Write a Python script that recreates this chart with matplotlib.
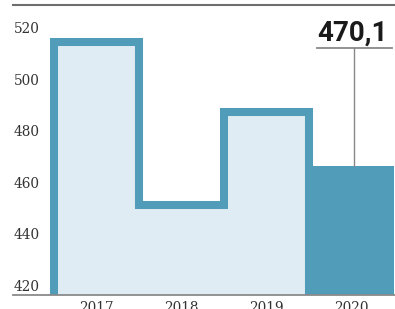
import numpy as np
import matplotlib
matplotlib.use("Agg")
import matplotlib.pyplot as plt
from matplotlib.lines import Line2D
import matplotlib.transforms as mtransforms

# data
years = ["2017", "2018", "2019", "2020"]
values = [518.0, 455.0, 491.0, 470.1]
y_ticks = [420, 440, 460, 480, 500, 520]
highlight_label = "470,1"

dark = "#509cb9"
light = "#dfecf3"
grey = "#7a7a7a"

W, H = 395, 309
fig = plt.figure(figsize=(W / 100, H / 100), dpi=100)
ax = fig.add_axes([0, 0, 1, 1])
ax.set_axis_off()

# pixel mapping: 85 px per bar, 2.58 px per unit
px_x, px_y = 85.0, 2.58
x0 = -96.5 / px_x
y0 = 420 - 14 / px_y
ax.set_xlim(x0, x0 + W / px_x)
ax.set_ylim(y0, y0 + H / px_y)

x = np.arange(len(years))
past = x[:-1]
past_vals = values[:-1]

# light fill for previous years
ax.bar(past, np.array(past_vals) - 420, bottom=420, width=1.0,
       color=light, linewidth=0, zorder=1)

# stepped outline over previous years
sx = [past[0] - 0.5]
sy = [420]
for xi, v in zip(past, past_vals):
    sx += [xi - 0.5, xi + 0.5]
    sy += [v, v]
sx.append(past[-1] + 0.5)
sy.append(420)
ax.plot(sx, sy, color=dark, lw=5.8, solid_joinstyle="miter",
        solid_capstyle="butt", zorder=2)

# current year solid bar
ax.bar(x[-1], values[-1] - 420, bottom=420, width=1.0,
       color=dark, linewidth=0, zorder=3)

# baseline and top rule
ax.axhline(420, xmin=13 / W, xmax=1, color="#8a8a8a", lw=1.3, zorder=4)
fig.add_artist(Line2D([13 / W, 1], [1 - 5 / H, 1 - 5 / H],
                      color="#6e6e6e", lw=1.5))

# y tick labels, sitting just above their value
trans = mtransforms.blended_transform_factory(ax.transAxes, ax.transData)
for t in y_ticks:
    ax.text(14 / W, t + 4 / px_y, str(t), transform=trans, ha="left",
            va="baseline", fontsize=9.8, family="DejaVu Serif", color="#333333")

# x labels, cut at bottom edge
for xi, lab in zip(x, years):
    ax.text(xi, 420 - 6 / px_y, lab, ha="center", va="top",
            fontsize=9.8, family="DejaVu Serif", color="#333333")

# callout for the latest value
lx = x[-1] + 0.03
ly = 420 + (295 - 47.7) / px_y
ax.plot([2.591, 3.473], [ly, ly], color="#888888", lw=1.3, zorder=4)
ax.plot([lx, lx], [ly, values[-1]], color="#888888", lw=1.0, zorder=4)
ax.text(x[-1] + 0.01, ly + 7 / px_y, highlight_label, ha="center",
        va="baseline", fontsize=20, fontweight="bold", family="Roboto",
        color="#1a1a1a")

fig.savefig("out.png", dpi=100)
